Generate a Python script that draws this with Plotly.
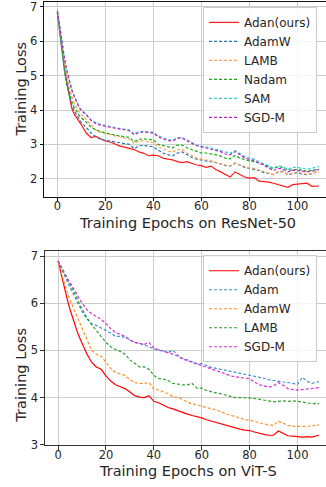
import plotly.graph_objects as go

# ---------------- data ----------------
epochs = [0, 1, 2, 3, 4, 5, 6, 7, 8, 9, 10,
          12, 14, 16, 18, 20, 22, 24, 26, 28, 30, 32, 34, 36, 38, 40,
          42, 44, 46, 48, 50, 52, 54, 56, 58, 60, 62, 64, 66, 68, 70,
          72, 74, 76, 78, 80, 82, 84, 86, 88, 90, 92, 94, 96, 98, 100,
          102, 104, 106, 108, 109]

# ResNet-50 panel
r_adan = [6.85, 6.30, 5.70, 5.20, 4.80, 4.40, 4.05, 3.88, 3.78, 3.68, 3.57,
          3.33, 3.20, 3.23, 3.16, 3.10, 3.07, 3.00, 2.95, 2.92, 2.89, 2.85, 2.78, 2.74, 2.67, 2.69,
          2.67, 2.60, 2.57, 2.55, 2.50, 2.47, 2.50, 2.44, 2.40, 2.38, 2.33, 2.37, 2.27, 2.20, 2.13,
          2.05, 2.20, 2.12, 2.05, 2.02, 2.03, 1.93, 1.92, 1.90, 1.87, 1.83, 1.80, 1.75, 1.83, 1.84,
          1.86, 1.87, 1.78, 1.78, 1.79]
r_adamw = [6.80, 6.20, 5.60, 5.10, 4.70, 4.40, 4.15, 3.98, 3.85, 3.72, 3.63,
           3.50, 3.33, 3.22, 3.15, 3.12, 3.10, 3.08, 3.06, 3.03, 3.00, 2.88, 2.96, 2.97, 2.95, 2.93,
           2.83, 2.75, 2.70, 2.67, 2.75, 2.78, 2.70, 2.62, 2.57, 2.55, 2.53, 2.50, 2.47, 2.43, 2.38,
           2.37, 2.45, 2.40, 2.33, 2.30, 2.28, 2.24, 2.18, 2.14, 2.12, 2.20, 2.22, 2.12, 2.15, 2.18,
           2.13, 2.12, 2.15, 2.20, 2.20]
r_lamb = [6.83, 6.30, 5.75, 5.30, 4.95, 4.65, 4.40, 4.20, 4.05, 3.95, 3.87,
          3.72, 3.55, 3.42, 3.35, 3.32, 3.28, 3.24, 3.21, 3.18, 3.15, 3.03, 3.10, 3.10, 3.08, 3.05,
          2.93, 2.88, 2.80, 2.78, 2.85, 2.85, 2.75, 2.68, 2.60, 2.57, 2.55, 2.52, 2.48, 2.43, 2.40,
          2.37, 2.46, 2.40, 2.35, 2.31, 2.30, 2.25, 2.20, 2.15, 2.12, 2.20, 2.20, 2.12, 2.17, 2.20,
          2.15, 2.13, 2.15, 2.20, 2.20]
r_nadam = [6.85, 6.25, 5.65, 5.15, 4.78, 4.50, 4.25, 4.08, 3.95, 3.85, 3.77,
           3.65, 3.50, 3.42, 3.37, 3.33, 3.30, 3.27, 3.25, 3.22, 3.20, 3.08, 3.15, 3.16, 3.15, 3.13,
           3.00, 2.96, 2.92, 2.90, 2.98, 2.98, 2.90, 2.85, 2.78, 2.75, 2.75, 2.73, 2.70, 2.66, 2.60,
           2.58, 2.68, 2.60, 2.55, 2.52, 2.50, 2.46, 2.42, 2.36, 2.30, 2.35, 2.33, 2.25, 2.25, 2.28,
           2.25, 2.22, 2.24, 2.27, 2.28]
r_sam = [6.90, 6.40, 5.90, 5.50, 5.15, 4.85, 4.60, 4.42, 4.25, 4.10, 4.00,
         3.88, 3.72, 3.63, 3.58, 3.56, 3.52, 3.49, 3.47, 3.45, 3.42, 3.30, 3.37, 3.38, 3.37, 3.35,
         3.25, 3.20, 3.14, 3.12, 3.20, 3.20, 3.12, 3.05, 2.98, 2.95, 2.93, 2.90, 2.86, 2.82, 2.76,
         2.74, 2.82, 2.73, 2.65, 2.60, 2.57, 2.50, 2.45, 2.38, 2.30, 2.38, 2.35, 2.27, 2.33, 2.33,
         2.30, 2.28, 2.30, 2.35, 2.36]
r_sgdm = [6.88, 6.38, 5.88, 5.48, 5.13, 4.83, 4.58, 4.40, 4.23, 4.08, 3.98,
          3.86, 3.70, 3.61, 3.56, 3.54, 3.50, 3.47, 3.45, 3.43, 3.40, 3.28, 3.35, 3.36, 3.35, 3.33,
          3.22, 3.17, 3.11, 3.10, 3.18, 3.18, 3.10, 3.02, 2.96, 2.93, 2.90, 2.87, 2.83, 2.79, 2.72,
          2.70, 2.79, 2.70, 2.61, 2.56, 2.53, 2.45, 2.40, 2.32, 2.24, 2.30, 2.28, 2.20, 2.25, 2.24,
          2.22, 2.20, 2.22, 2.26, 2.27]

# ViT-S panel
v_adan = [6.90, 6.68, 6.45, 6.25, 6.05, 5.87, 5.70, 5.55, 5.40, 5.27, 5.15,
          4.93, 4.75, 4.65, 4.60, 4.46, 4.35, 4.27, 4.23, 4.19, 4.12, 4.04, 4.01, 4.00, 4.04, 3.92,
          3.89, 3.84, 3.79, 3.76, 3.72, 3.68, 3.65, 3.62, 3.60, 3.57, 3.53, 3.50, 3.48, 3.45, 3.41,
          3.38, 3.36, 3.33, 3.31, 3.30, 3.27, 3.24, 3.22, 3.20, 3.20, 3.29, 3.24, 3.19, 3.18, 3.17,
          3.16, 3.17, 3.16, 3.19, 3.20]
v_adam = [6.90, 6.78, 6.65, 6.53, 6.42, 6.33, 6.24, 6.13, 6.02, 5.92, 5.83,
          5.67, 5.57, 5.53, 5.48, 5.43, 5.37, 5.30, 5.30, 5.28, 5.22, 5.17, 5.15, 5.12, 5.08, 5.03,
          5.00, 4.98, 4.96, 5.00, 4.90, 4.83, 4.80, 4.76, 4.72, 4.72, 4.68, 4.64, 4.62, 4.60, 4.58,
          4.55, 4.53, 4.52, 4.50, 4.48, 4.45, 4.43, 4.41, 4.38, 4.36, 4.34, 4.33, 4.32, 4.30, 4.28,
          4.43, 4.35, 4.30, 4.33, 4.34]
v_adamw = [6.88, 6.70, 6.52, 6.35, 6.20, 6.07, 5.95, 5.82, 5.68, 5.57, 5.45,
           5.20, 5.00, 4.92, 4.88, 4.75, 4.62, 4.53, 4.50, 4.47, 4.38, 4.32, 4.30, 4.30, 4.32, 4.18,
           4.16, 4.12, 4.08, 4.02, 4.00, 3.96, 3.90, 3.87, 3.84, 3.82, 3.78, 3.76, 3.74, 3.70, 3.65,
           3.62, 3.60, 3.56, 3.53, 3.52, 3.49, 3.47, 3.44, 3.42, 3.41, 3.50, 3.46, 3.41, 3.39, 3.39,
           3.38, 3.39, 3.40, 3.42, 3.42]
v_lamb = [6.90, 6.80, 6.70, 6.60, 6.50, 6.40, 6.32, 6.22, 6.10, 5.98, 5.88,
          5.70, 5.55, 5.43, 5.30, 5.17, 5.08, 5.02, 4.98, 4.92, 4.80, 4.72, 4.65, 4.65, 4.60, 4.47,
          4.40, 4.39, 4.36, 4.30, 4.28, 4.27, 4.27, 4.30, 4.20, 4.20, 4.15, 4.12, 4.10, 4.08, 4.05,
          4.02, 4.00, 4.00, 4.00, 3.99, 3.98, 3.96, 3.94, 3.92, 3.91, 3.92, 3.93, 3.92, 3.93, 3.92,
          3.90, 3.88, 3.87, 3.87, 3.87]
v_sgdm = [6.90, 6.80, 6.70, 6.60, 6.52, 6.44, 6.36, 6.28, 6.18, 6.08, 6.00,
          5.87, 5.78, 5.72, 5.66, 5.57, 5.46, 5.38, 5.34, 5.30, 5.22, 5.17, 5.15, 5.13, 5.17, 5.05,
          5.02, 4.98, 4.95, 4.92, 4.88, 4.82, 4.78, 4.75, 4.71, 4.68, 4.64, 4.60, 4.57, 4.54, 4.50,
          4.46, 4.44, 4.43, 4.42, 4.40, 4.33, 4.27, 4.25, 4.22, 4.25, 4.32, 4.26, 4.19, 4.17, 4.16,
          4.17, 4.18, 4.19, 4.20, 4.21]

top_series = [("Adan(ours)", r_adan, "#ff1a1a", "solid"),
              ("AdamW", r_adamw, "#1f77b4", "3px,2px"),
              ("LAMB", r_lamb, "#ffa04d", "3px,2px"),
              ("Nadam", r_nadam, "#1aaa1a", "3px,2px"),
              ("SAM", r_sam, "#30d0d0", "3px,2px"),
              ("SGD-M", r_sgdm, "#c020c0", "3px,2px")]
bot_series = [("Adan(ours)", v_adan, "#ff0000", "solid"),
              ("Adam", v_adam, "#3d8fd1", "3px,2px"),
              ("AdamW", v_adamw, "#ff8f2a", "3px,2px"),
              ("LAMB", v_lamb, "#30a030", "3px,2px"),
              ("SGD-M", v_sgdm, "#d633d6", "3px,2px")]

xticks = [0, 20, 40, 60, 80, 100]
top_yticks = [2, 3, 4, 5, 6, 7]
bot_yticks = [3, 4, 5, 6, 7]

W, H = 326, 487
fig = go.Figure()

for name, vals, col, dash in top_series:
    fig.add_trace(go.Scatter(x=epochs, y=vals, mode="lines", name=name,
                             line=dict(color=col, width=1.2, dash=dash),
                             xaxis="x", yaxis="y", legend="legend"))
for name, vals, col, dash in bot_series:
    fig.add_trace(go.Scatter(x=epochs, y=vals, mode="lines", name=name,
                             line=dict(color=col, width=1.2, dash=dash),
                             xaxis="x2", yaxis="y2", legend="legend2"))

FONT = "DejaVu Sans"
tickfont = dict(family=FONT, size=11.5, color="#262626")

def xax(domain, anchor, lc):
    return dict(domain=domain, anchor=anchor, range=[-5.45, 111.9],
                tickvals=xticks, ticks="outside", ticklen=3.5, tickcolor=lc,
                ticklabelstandoff=-5,
                showline=True, linecolor=lc, linewidth=1.2, mirror=True,
                showgrid=True, gridcolor="#cccccc", gridwidth=1.2,
                zeroline=False, tickfont=tickfont, ticklabeloverflow="allow")

def yax(domain, anchor, rng, tv, lc):
    return dict(domain=domain, anchor=anchor, range=rng, tickvals=tv,
                ticks="outside", ticklen=3.5, tickcolor=lc,
                showline=True, linecolor=lc, linewidth=1.2, mirror=False,
                showgrid=True, gridcolor="#cccccc", gridwidth=1.2,
                zeroline=False, tickfont=tickfont, ticklabeloverflow="allow")

fig.update_layout(
    width=W, height=H,
    margin=dict(l=0, r=0, t=0, b=0),
    paper_bgcolor="white", plot_bgcolor="white",
    font=dict(family=FONT, color="#262626"),
    xaxis=xax([44.3 / W, 1], "y", "#111111"),
    yaxis=yax([1 - 198.3 / H, 1], "x", [1.48, 7.143], top_yticks, "#111111"),
    xaxis2=xax([45 / W, 1], "y2", "#333333"),
    yaxis2=yax([1 - 451.5 / H, 1 - 254 / H], "x2", [2.99, 7.104], bot_yticks, "#333333"),
    legend=dict(x=203 / W, y=1 - 5 / H, xanchor="left", yanchor="top",
                bgcolor="rgba(255,255,255,0.8)", bordercolor="#cccccc", borderwidth=1,
                font=dict(family=FONT, size=12, color="#262626")),
    legend2=dict(x=203 / W, y=1 - 258 / H, xanchor="left", yanchor="top",
                 bgcolor="rgba(255,255,255,0.8)", bordercolor="#cccccc", borderwidth=1,
                 font=dict(family=FONT, size=12, color="#262626")),
    showlegend=True,
)

title_font = dict(family=FONT, size=14.5, color="#262626")
fig.add_annotation(text="Training Epochs on ResNet-50", xref="paper", yref="paper",
                   x=187.5 / W, y=1 - 225 / H, xanchor="center", yanchor="middle",
                   showarrow=False, font=title_font)
fig.add_annotation(text="Training Epochs on ViT-S", xref="paper", yref="paper",
                   x=188 / W, y=1 - 477.5 / H, xanchor="center", yanchor="middle",
                   showarrow=False, font=title_font)
fig.add_annotation(text="Training Loss", xref="paper", yref="paper",
                   x=20.7 / W, y=1 - 88.5 / H, xanchor="center", yanchor="middle",
                   textangle=-90, showarrow=False, font=title_font)
fig.add_annotation(text="Training Loss", xref="paper", yref="paper",
                   x=20.7 / W, y=1 - 380 / H, xanchor="center", yanchor="middle",
                   textangle=-90, showarrow=False, font=title_font)

fig.write_html("out.html")
